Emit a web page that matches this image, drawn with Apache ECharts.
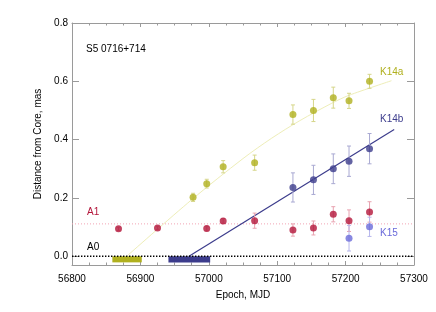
<!DOCTYPE html>
<html><head><meta charset="utf-8">
<script src="https://cdn.jsdelivr.net/npm/echarts@6/dist/echarts.min.js"></script>
<style>html,body{margin:0;padding:0;background:#fff}#c{width:436px;height:312px}</style>
</head><body><div id="c"></div>
<script>
// K14a component: [MJD, distance, error]
const k14aMjd = [56977, 56997, 57021, 57067, 57123, 57153, 57182, 57205, 57235];
const k14aVal = [0.202, 0.249, 0.307, 0.321, 0.486, 0.500, 0.544, 0.533, 0.600];
const k14aErr = [0.014, 0.015, 0.021, 0.026, 0.033, 0.038, 0.036, 0.026, 0.024];
// K14b component
const k14bMjd = [57123, 57153, 57182, 57205, 57235];
const k14bVal = [0.236, 0.262, 0.300, 0.326, 0.369];
const k14bErr = [0.050, 0.050, 0.051, 0.052, 0.052];
// A1 component
const a1Mjd = [56868, 56925, 56997, 57021, 57067, 57123, 57153, 57182, 57205, 57235];
const a1Val = [0.094, 0.097, 0.095, 0.121, 0.122, 0.090, 0.097, 0.144, 0.122, 0.152];
const a1Err = [0.006, 0.006, 0.008, 0.008, 0.026, 0.021, 0.024, 0.026, 0.037, 0.035];
// K15 component
const k15Mjd = [57205, 57235];
const k15Val = [0.062, 0.101];
const k15Err = [0.044, 0.033];
// fits and reference levels
const k14aFitMjd = [56880, 56975, 57050, 57092, 57133, 57180, 57205, 57267];
const k14aFitVal = [0.000, 0.194, 0.335, 0.405, 0.465, 0.525, 0.552, 0.602];
const k14bFitMjd = [56971, 57271];
const k14bFitVal = [0.000, 0.435];
const a1Level = 0.111;
const a0Level = 0.0;
// ejection epoch ranges
const k14aEject = [56859, 56902];
const k14bEject = [56941, 57002];
const yTicks = [0, 0.2, 0.4, 0.6, 0.8];
const xTicks = [56800, 56900, 57000, 57100, 57200, 57300];

const C = {
  olive: '#b0b01e', oliveL: '#d6d68a', oliveFit: '#eeeeb8',
  navy: '#3c3c8c', navyL: '#a9a9d2',
  red: '#b3153a', redL: '#e8a3b0', redDot: '#f2a4b4',
  k15: '#6a6ada', k15L: '#b6b6ec',
  axis: '#9a9a9a'
};
const FONT = 'Liberation Sans, Arial, Helvetica, sans-serif';

function zip3(a, b, c) { return a.map((v, i) => [v, b[i], c[i]]); }
function zip2(a, b) { return a.map((v, i) => [v, b[i]]); }

function errSeries(data, color) {
  return {
    type: 'custom', xAxisIndex: 0, yAxisIndex: 0, clip: false, z: 3,
    data: data, encode: { x: 0, y: 1 },
    renderItem: function (params, api) {
      const x = api.value(0), y = api.value(1), e = api.value(2);
      const t = api.coord([x, y + e]), b = api.coord([x, y - e]);
      const w = 2;
      const st = { stroke: color, lineWidth: 1 };
      return { type: 'group', children: [
        { type: 'line', shape: { x1: t[0], y1: t[1], x2: b[0], y2: b[1] }, style: st },
        { type: 'line', shape: { x1: t[0] - w, y1: t[1], x2: t[0] + w, y2: t[1] }, style: st },
        { type: 'line', shape: { x1: b[0] - w, y1: b[1], x2: b[0] + w, y2: b[1] }, style: st }
      ]};
    }
  };
}
function ptSeries(data, color) {
  return { type: 'scatter', data: data, symbol: 'circle', symbolSize: 7,
    itemStyle: { color: color }, z: 5, silent: true };
}

const axisBase = {
  type: 'value', min: 56800, max: 57300, interval: 100,
  axisLine: { show: true, onZero: false, lineStyle: { color: C.axis, width: 1 } },
  axisTick: { show: true, inside: true, length: 4, lineStyle: { color: C.axis } },
  minorTick: { show: true, splitNumber: 4, length: 2.5, lineStyle: { color: C.axis } },
  splitLine: { show: false }, minorSplitLine: { show: false }
};
const yBase = {
  type: 'value', min: -0.03, max: 0.8,
  axisLine: { show: true, onZero: false, lineStyle: { color: C.axis, width: 1 } },
  axisTick: { show: true, inside: true, length: 7, customValues: yTicks, lineStyle: { color: C.axis } },
  splitLine: { show: false }
};

const chart = echarts.init(document.getElementById('c'), null, { renderer: 'canvas' });
chart.setOption({
  animation: false,
  backgroundColor: '#fff',
  grid: { left: 72, right: 22, top: 23, bottom: 47 },
  xAxis: [
    Object.assign({}, axisBase, {
      position: 'bottom',
      name: 'Epoch, MJD', nameLocation: 'middle', nameGap: 25,
      nameTextStyle: { color: '#000', fontSize: 10, fontFamily: FONT },
      axisLabel: { color: '#000', fontSize: 10, fontFamily: FONT, margin: 9,
        customValues: xTicks, formatter: v => String(v) }
    }),
    Object.assign({}, axisBase, { position: 'top', axisLabel: { show: false } })
  ],
  yAxis: [
    Object.assign({}, yBase, {
      position: 'left',
      name: 'Distance from Core, mas', nameLocation: 'middle', nameGap: 24, nameRotate: 90,
      nameTextStyle: { color: '#000', fontSize: 10, fontFamily: FONT },
      axisLabel: { color: '#000', fontSize: 10, fontFamily: FONT, margin: 4,
        customValues: yTicks, formatter: v => v.toFixed(1) }
    }),
    Object.assign({}, yBase, { position: 'right', axisLabel: { show: false } })
  ],
  series: [
    { type: 'line', data: zip2([56800, 57300], [a0Level, a0Level]), symbol: 'none', z: 4,
      lineStyle: { color: '#000', width: 1.5, type: [1.4, 1.6] },
      markArea: { silent: true, data: [
        [{ coord: [k14aEject[0], 0], itemStyle: { color: C.olive, opacity: 1 } }, { coord: [k14aEject[1], -0.021] }],
        [{ coord: [k14bEject[0], 0], itemStyle: { color: C.navy, opacity: 1 } }, { coord: [k14bEject[1], -0.021] }]
      ] } },
    { type: 'line', data: zip2([56800, 57300], [a1Level, a1Level]), symbol: 'none', z: 2,
      lineStyle: { color: C.redDot, width: 1, type: [1, 2] } },
    { type: 'line', data: zip2(k14aFitMjd, k14aFitVal), symbol: 'none', smooth: 0.3, z: 2,
      lineStyle: { color: C.oliveFit, width: 1 } },
    { type: 'line', data: zip2(k14bFitMjd, k14bFitVal), symbol: 'none', z: 2,
      lineStyle: { color: C.navy, width: 1.2 } },
    errSeries(zip3(k14aMjd, k14aVal, k14aErr), C.oliveL),
    errSeries(zip3(k14bMjd, k14bVal, k14bErr), C.navyL),
    errSeries(zip3(a1Mjd, a1Val, a1Err), C.redL),
    errSeries(zip3(k15Mjd, k15Val, k15Err), C.k15L),
    ptSeries(zip2(k14aMjd, k14aVal), C.olive),
    ptSeries(zip2(k14bMjd, k14bVal), C.navy),
    ptSeries(zip2(a1Mjd, a1Val), C.red),
    ptSeries(zip2(k15Mjd, k15Val), C.k15)
  ],
  graphic: [
    { type: 'text', left: 86, top: 44, style: { text: 'S5 0716+714', fill: '#000', font: '10px ' + FONT } },
    { type: 'text', left: 380, top: 67, style: { text: 'K14a', fill: C.olive, font: '10px ' + FONT } },
    { type: 'text', left: 380, top: 114, style: { text: 'K14b', fill: C.navy, font: '10px ' + FONT } },
    { type: 'text', left: 380, top: 228, style: { text: 'K15', fill: C.k15, font: '10px ' + FONT } },
    { type: 'text', left: 87, top: 207, style: { text: 'A1', fill: C.red, font: '10px ' + FONT } },
    { type: 'text', left: 87, top: 242, style: { text: 'A0', fill: '#000', font: '10px ' + FONT } }
  ]
});
</script></body></html>
